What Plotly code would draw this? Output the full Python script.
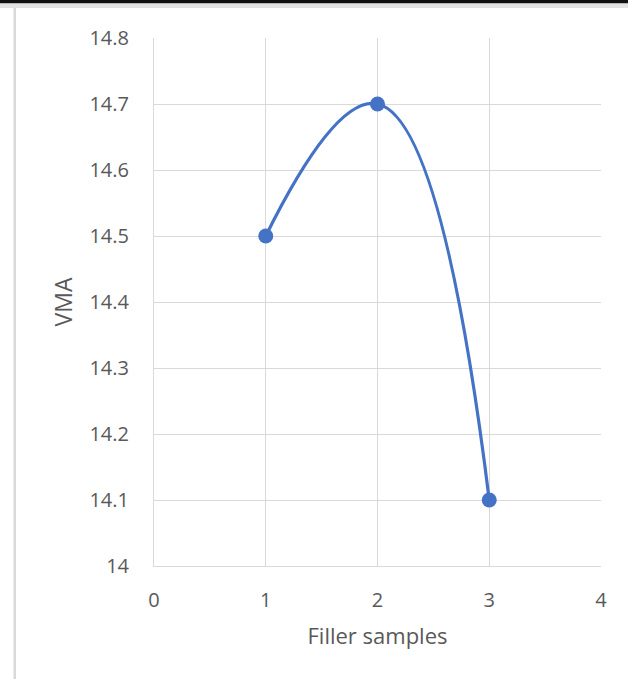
import plotly.graph_objects as go

x_vals = [1, 2, 3]
vma_vals = [14.5, 14.7, 14.1]
x_ticks = [0, 1, 2, 3, 4]
y_ticks = [14.0, 14.1, 14.2, 14.3, 14.4, 14.5, 14.6, 14.7, 14.8]
y_tick_labels = ["14", "14.1", "14.2", "14.3", "14.4", "14.5", "14.6", "14.7", "14.8"]

W, H = 628, 679
L, R, T, B = 154, 27, 38, 113
PW, PH = W - L - R, H - T - B

def px_x(px):
    return (px - L) / PW

def px_y(py):
    return (H - B - py) / PH

fig = go.Figure()
fig.add_trace(go.Scatter(
    x=x_vals, y=vma_vals, mode="lines+markers",
    line=dict(color="#4472C4", width=3.2, shape="spline", smoothing=1.3),
    marker=dict(color="#4472C4", size=15),
    showlegend=False, cliponaxis=False,
))

font = "Open Sans, sans-serif"
fig.update_layout(
    width=W, height=H,
    margin=dict(l=L, r=R, t=T, b=B),
    paper_bgcolor="white", plot_bgcolor="white",
    font=dict(family=font, color="#595959", size=20),
    xaxis=dict(range=[0, 4], tickvals=x_ticks, ticktext=[str(v) for v in x_ticks],
               tickfont=dict(size=20, color="#595959"),
               showgrid=True, gridcolor="#d9d9d9", gridwidth=1,
               zeroline=False, showline=True, linecolor="#d9d9d9", linewidth=1,
               ticks="", ticklabelstandoff=16,
               title=dict(text="Filler samples", standoff=16,
                          font=dict(size=22, color="#595959")),
               fixedrange=True),
    yaxis=dict(range=[14.0, 14.8], tickvals=y_ticks, ticktext=y_tick_labels,
               tickfont=dict(size=20, color="#595959"),
               showgrid=True, gridcolor="#d9d9d9", gridwidth=1,
               zeroline=False, showline=True, linecolor="#d9d9d9", linewidth=1,
               ticks="", ticklabelstandoff=20,
               title=dict(text="VMA", standoff=10, font=dict(size=23, color="#595959")),
               fixedrange=True),
)

shapes = [
    dict(type="rect", xref="paper", yref="paper", x0=px_x(0), x1=px_x(W),
         y0=px_y(3.5), y1=px_y(0), fillcolor="#111111", line=dict(width=0), layer="above"),
    dict(type="rect", xref="paper", yref="paper", x0=px_x(0), x1=px_x(W),
         y0=px_y(8), y1=px_y(3.5), fillcolor="#e3e3e3", line=dict(width=0), layer="above"),
    dict(type="rect", xref="paper", yref="paper", x0=px_x(13.5), x1=px_x(16),
         y0=px_y(H), y1=px_y(8), fillcolor="#d9d9d9", line=dict(width=0), layer="above"),
]
fig.update_layout(shapes=shapes)
fig.write_html("out.html")
